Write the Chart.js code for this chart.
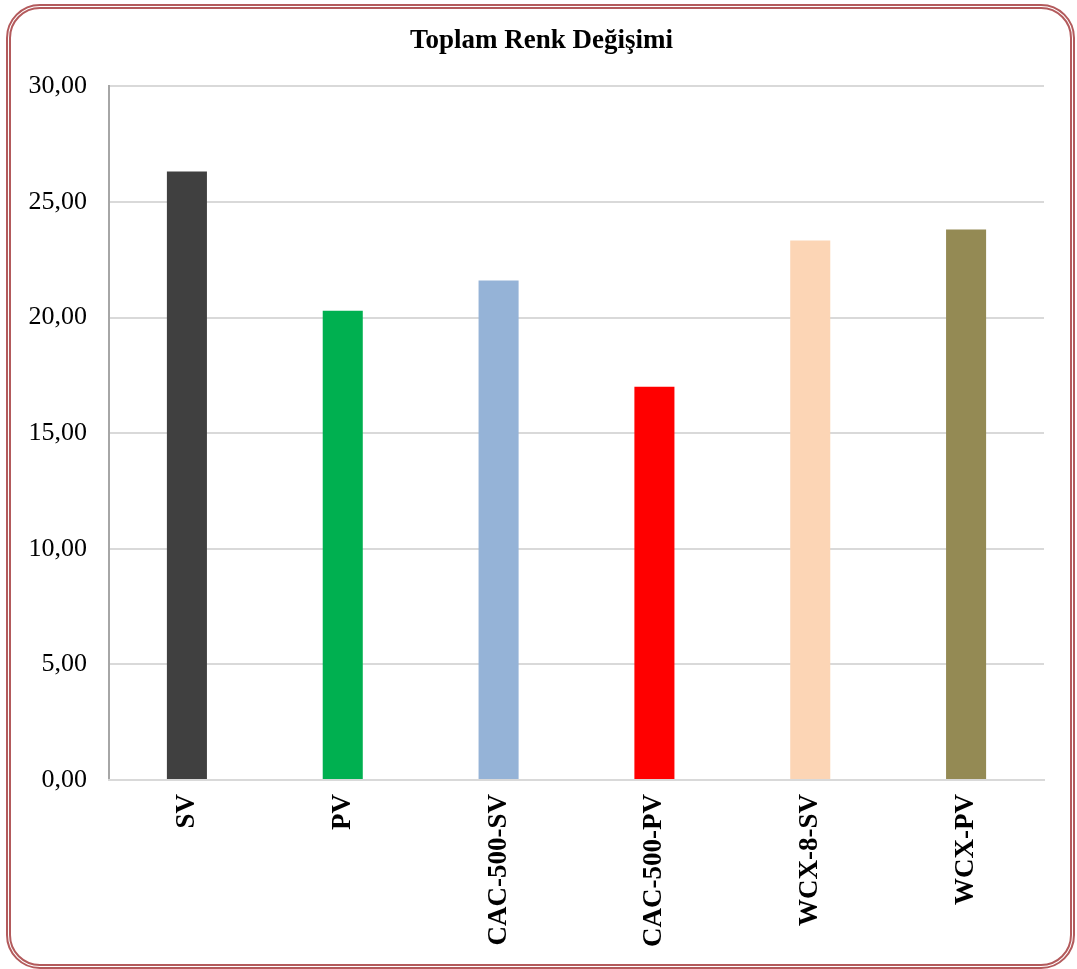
<!DOCTYPE html>
<html>
<head>
<meta charset="utf-8">
<script src="https://cdn.jsdelivr.net/npm/chart.js@4"></script>
<style>
html,body{margin:0;padding:0;background:#fff;}
#wrap{position:absolute;left:0;top:0;width:1077px;height:969px;}
#frame{position:absolute;left:6px;top:4px;width:1059px;height:955px;border:5px double #b35a5c;border-radius:34px;pointer-events:none;}
canvas{position:absolute;left:0;top:0;}
</style>
</head>
<body>
<div id="wrap">
<canvas id="c" width="1077" height="969"></canvas>
<div id="frame"></div>
</div>
<script>
const categories = ["SV", "PV", "CAC-500-SV", "CAC-500-PV", "WCX-8-SV", "WCX-PV"];
const values = [26.32, 20.30, 21.60, 17.01, 23.33, 23.81];
const barColors = ["#404040", "#00b050", "#95b3d7", "#ff0000", "#fcd5b5", "#948a54"];
const titleText = "Toplam Renk Değişimi";

new Chart(document.getElementById('c'), {
  type: 'bar',
  data: {
    labels: categories,
    datasets: [{
      data: values,
      backgroundColor: barColors,
      borderWidth: 0,
      categoryPercentage: 1.0,
      barPercentage: 0.257
    }]
  },
  options: {
    responsive: false,
    animation: false,
    layout: { padding: { left: 6, right: 0, top: 0, bottom: 0 } },
    plugins: {
      legend: { display: false },
      tooltip: { enabled: false },
      title: {
        display: true,
        text: titleText,
        color: '#000',
        font: { family: 'Liberation Serif', size: 27, weight: 'bold', lineHeight: 1.2 },
        padding: { top: 25, bottom: 29 }
      }
    },
    scales: {
      y: {
        min: 0, max: 30,
        ticks: {
          stepSize: 5,
          color: '#000',
          padding: 22,
          font: { family: 'Liberation Serif', size: 26 },
          callback: v => v.toFixed(2).replace('.', ',')
        },
        grid: { color: '#d9d9d9', lineWidth: 2, drawTicks: false },
        border: { display: true, color: '#a6a6a6', width: 2 },
        afterFit: s => { s.width = 103; }
      },
      yRight: {
        position: 'right',
        min: 0, max: 30,
        ticks: { display: false },
        grid: { display: false, drawTicks: false },
        border: { display: false },
        afterFit: s => { s.width = 33; }
      },
      x: {
        ticks: {
          color: '#000',
          padding: 14,
          minRotation: 90,
          maxRotation: 90,
          autoSkip: false,
          font: { family: 'Liberation Serif', size: 27, weight: 'bold' }
        },
        grid: { display: false, drawTicks: false },
        border: { display: true, color: '#d9d9d9', width: 2 },
        afterFit: s => { s.height = 189; }
      }
    }
  }
});
</script>
</body>
</html>
